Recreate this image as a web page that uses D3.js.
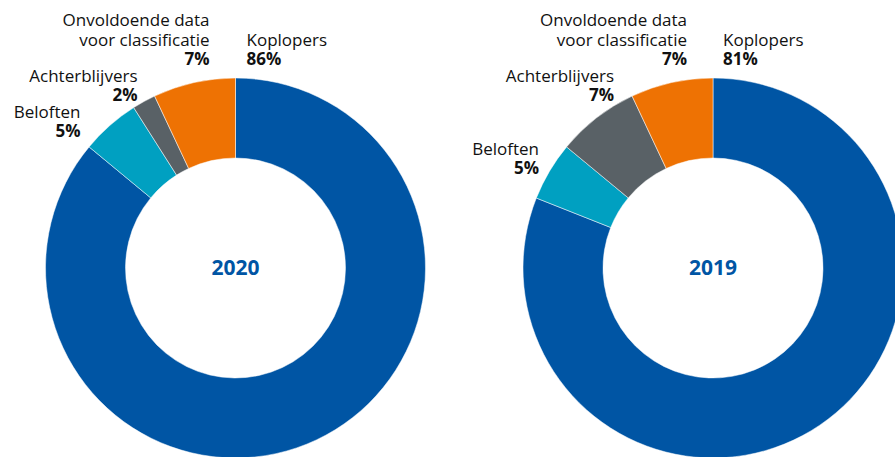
<!DOCTYPE html>
<html>
<head>
<meta charset="utf-8">
<script src="https://cdn.jsdelivr.net/npm/d3@7"></script>
<style>
  body { margin: 0; background: #fff; }
  svg { display: block; font-family: "Open Sans", sans-serif; }
</style>
</head>
<body>
<div id="chart"></div>
<script>
// Data
const years = ["2020", "2019"];
const categories = ["Koplopers", "Beloften", "Achterblijvers", "Onvoldoende data voor classificatie"];
const values2020 = [86, 5, 2, 7];
const values2019 = [81, 5, 7, 7];
const seriesValues = [values2020, values2019];

const colors = ["#0055a4", "#00a0c1", "#596166", "#ee7203"];

// label lines for each category (last line is the value)
const labelLines = [
    ["Koplopers"],
    ["Beloften"],
    ["Achterblijvers"],
    ["Onvoldoende data", "voor classificatie"]
];

// label anchor offsets relative to donut centre (x, baseline of last line), per chart
const labelOffsets = [
    [[11, -203, "start"], [-155, -131, "end"], [-98, -167, "end"], [-26, -203, "end"]],
    [[10, -203, "start"], [-174, -94, "end"], [-99, -167, "end"], [-26, -203, "end"]]
];

const width = 895;
const height = 457;
const outerR = 190;
const innerR = 110;
const lineH = 19.5;

const svg = d3.select("#chart").append("svg")
    .attr("width", width)
    .attr("height", height);

const x = d3.scalePoint()
    .domain(years)
    .range([235.5, 713]);
const cy = 268;

const pie = d3.pie().sort(null).value(d => d);
const arc = d3.arc().innerRadius(innerR).outerRadius(outerR);
const color = d3.scaleOrdinal().domain(categories).range(colors);

years.forEach((year, i) => {
    const g = svg.append("g")
        .attr("transform", `translate(${x(year)},${cy})`);

    const arcs = pie(seriesValues[i]);

    g.selectAll("path")
        .data(arcs)
        .enter().append("path")
        .attr("d", arc)
        .attr("fill", (d, j) => color(categories[j]))
        .attr("stroke", "#fff")
        .attr("stroke-width", 0.5);

    g.append("text")
        .attr("x", 0)
        .attr("y", 7)
        .attr("text-anchor", "middle")
        .style("font-size", "21px")
        .style("font-weight", "700")
        .style("fill", "#0055a4")
        .text(year);

    // labels
    arcs.forEach((d, j) => {
        const [dx, dy, anchor] = labelOffsets[i][j];
        const lines = labelLines[j];
        const t = g.append("text")
            .attr("text-anchor", anchor)
            .style("font-size", "17px")
            .style("fill", "#111");
        lines.forEach((ln, k) => {
            t.append("tspan")
                .attr("x", dx)
                .attr("y", dy - (lines.length - k) * lineH)
                .text(ln);
        });
        t.append("tspan")
            .attr("x", dx)
            .attr("y", dy)
            .style("font-weight", "700")
            .text(d.data + "%");
    });
});
</script>
</body>
</html>
